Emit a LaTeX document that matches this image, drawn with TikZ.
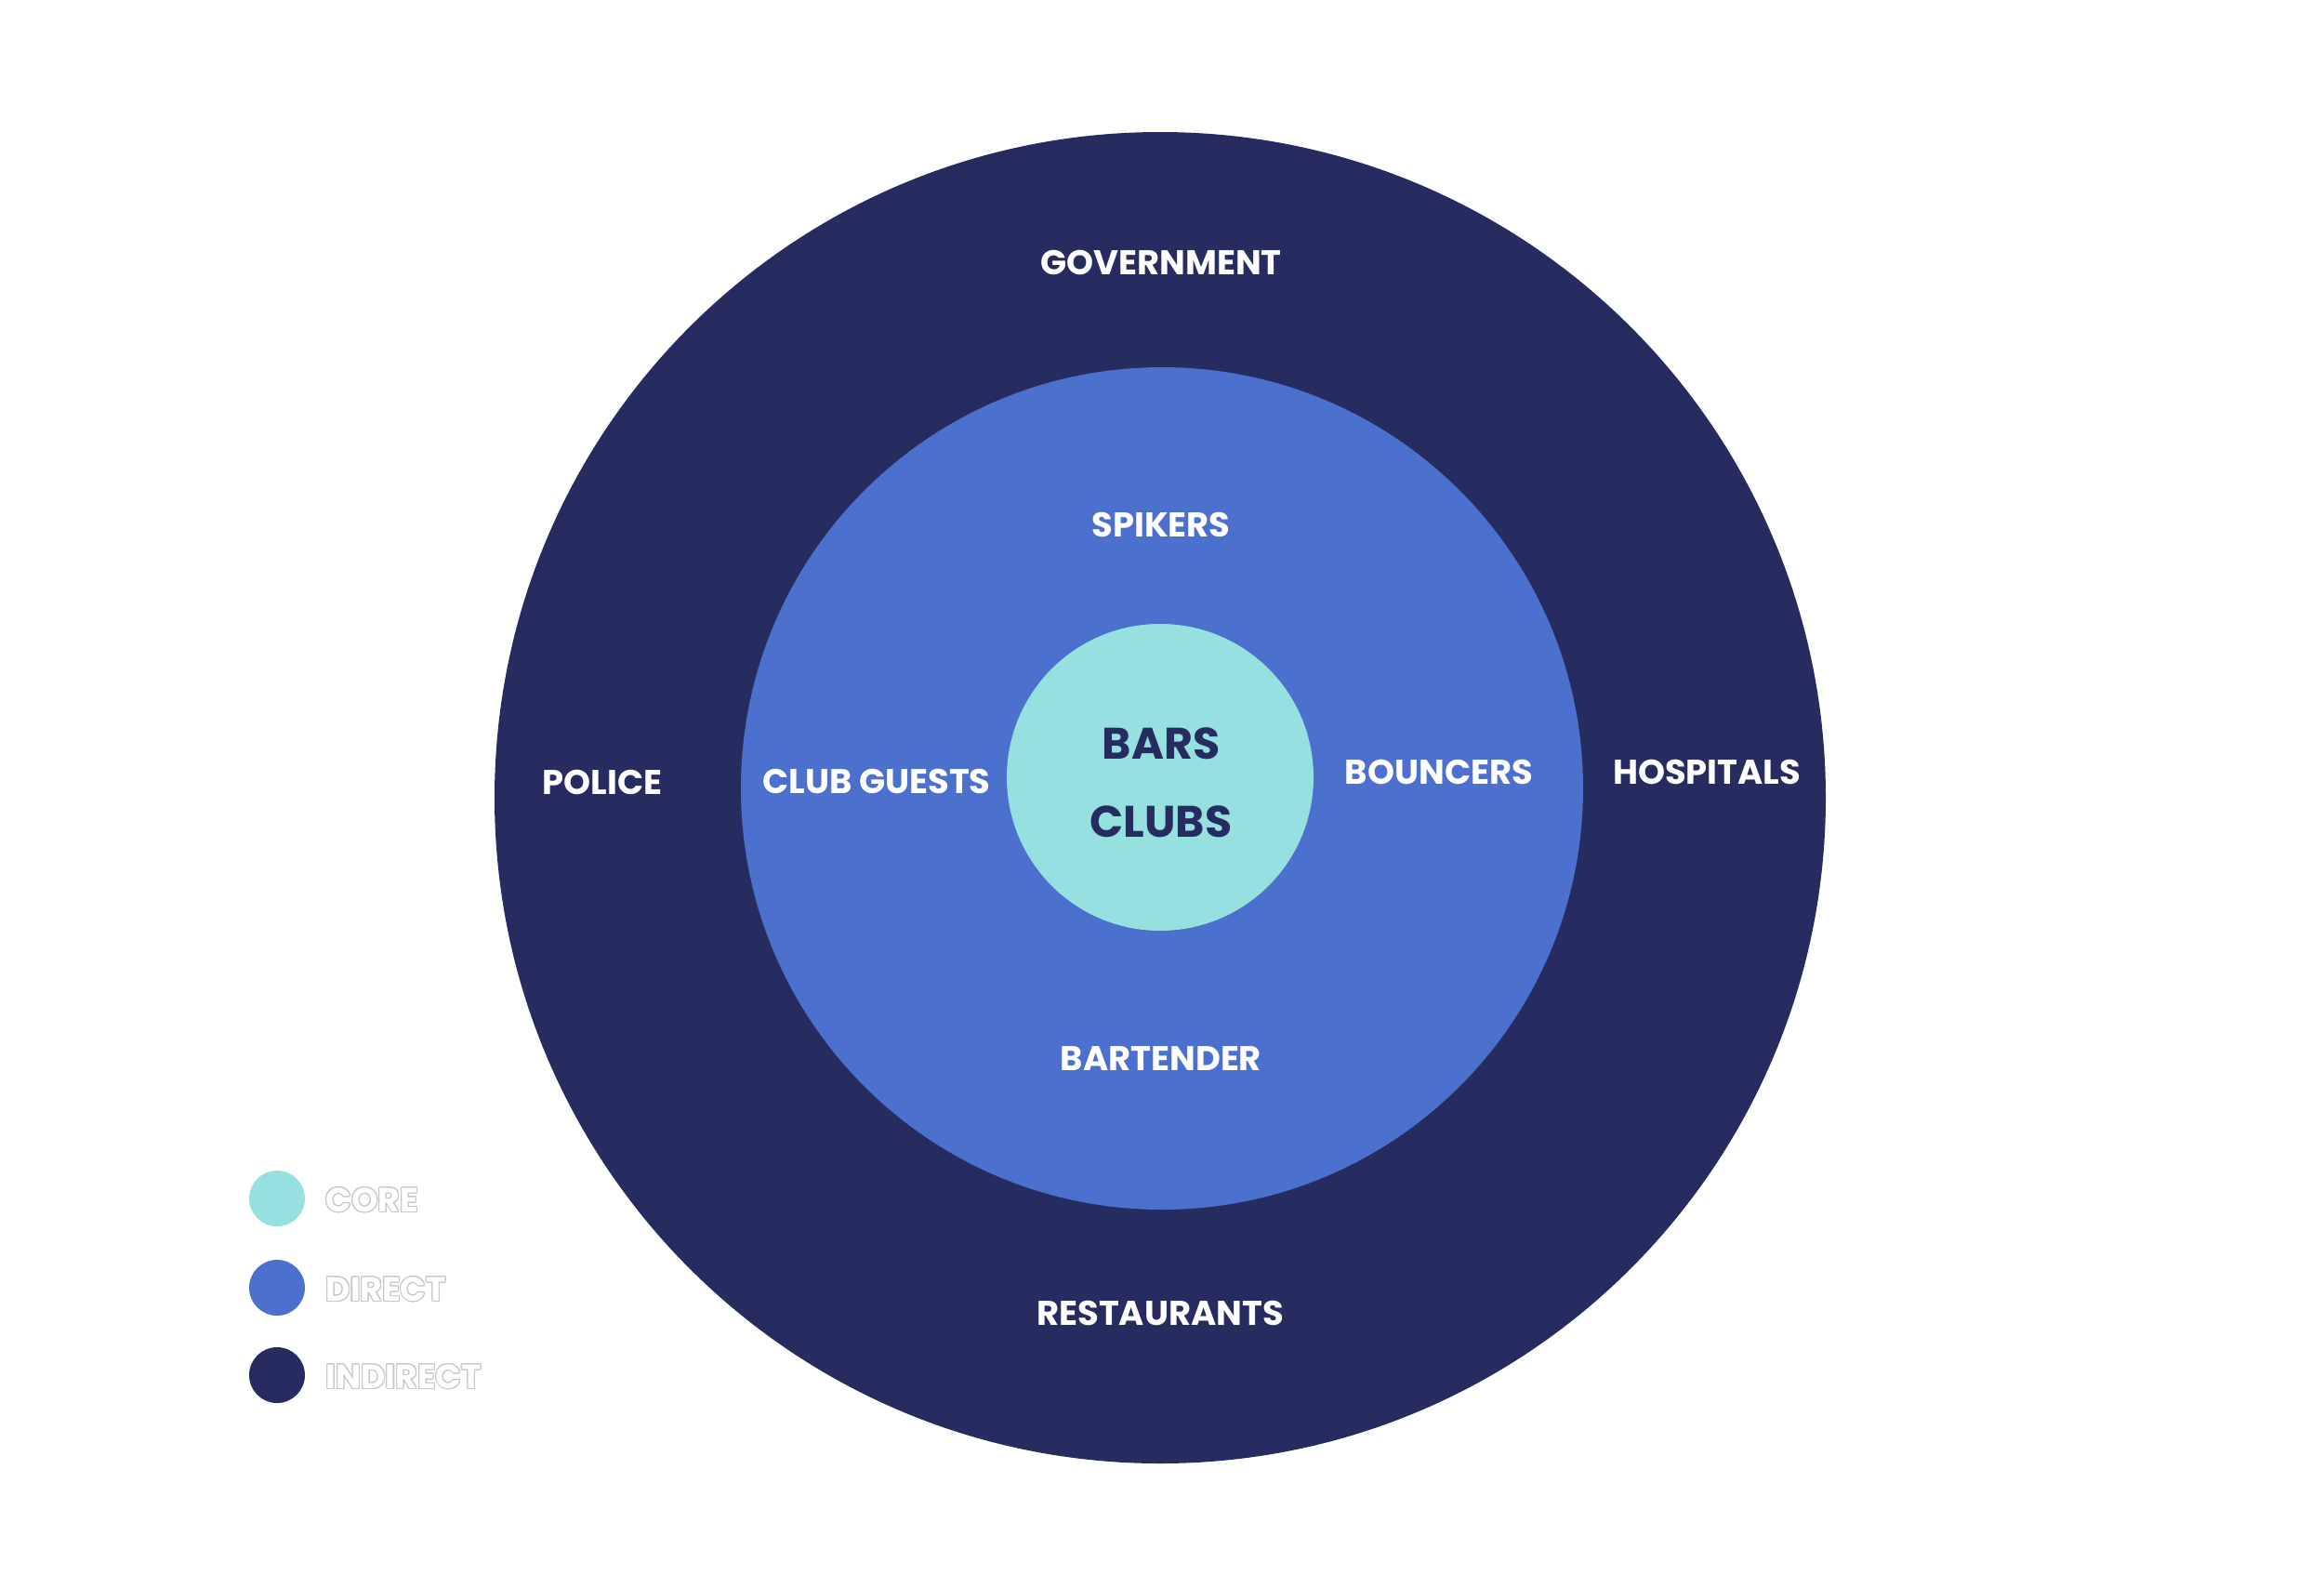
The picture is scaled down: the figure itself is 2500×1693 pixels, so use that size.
\documentclass[tikz,border=0pt]{standalone}
\usepackage{fontspec}
\setmainfont{Poppins}
\usepackage{contour}
\contourlength{0.3pt}
\definecolor{indirectc}{RGB}{39,44,96}
\definecolor{directc}{RGB}{76,112,205}
\definecolor{corec}{RGB}{151,224,224}
\definecolor{rimc}{RGB}{200,200,200}

\begin{document}
\begin{tikzpicture}[x=0.01cm,y=-0.01cm,
    lbl/.style={text=white,font=\bfseries\fontsize{10.5}{12}\selectfont,inner sep=0pt},
    corelbl/.style={text=indirectc,font=\bfseries\fontsize{13.5}{15}\selectfont,inner sep=0pt},
    keylbl/.style={anchor=west,font=\bfseries\fontsize{10.3}{12}\selectfont,inner sep=0pt}]
    \useasboundingbox (0,0) rectangle (2500,1693);
    \fill[indirectc] (1248,858) circle (716);
    \fill[directc] (1250,848) circle (453);
    \fill[corec] (1248,836) circle (165);
    % rings
    \node[lbl] (gov) at (1249,282) {GOVERNMENT};
    \node[lbl] (police) at (648,841) {POLICE};
    \node[lbl] (hosp) at (1836,830) {HOSPITALS};
    \node[lbl] (rest) at (1248,1412) {RESTAURANTS};
    \node[lbl] (spikers) at (1249,564) {SPIKERS};
    \node[lbl] (guests) at (943,840) {CLUB GUESTS};
    \node[lbl] (bouncers) at (1548,830) {BOUNCERS};
    \node[lbl] (bartender) at (1249,1139) {BARTENDER};
    \node[corelbl] (bars) at (1249,800) {BARS};
    \node[corelbl] (clubs) at (1249,884) {CLUBS};
    % legend
    \fill[corec] (298,1289) circle (30);
    \fill[directc] (298,1385) circle (30);
    \fill[indirectc] (298,1479) circle (30);
    \node[keylbl] (kcore) at (350,1291) {\contour{rimc}{\textcolor{white}{CORE}}};
    \node[keylbl] (kdirect) at (350,1387) {\contour{rimc}{\textcolor{white}{DIRECT}}};
    \node[keylbl] (kindirect) at (350,1481) {\contour{rimc}{\textcolor{white}{INDIRECT}}};
\end{tikzpicture}
\end{document}
